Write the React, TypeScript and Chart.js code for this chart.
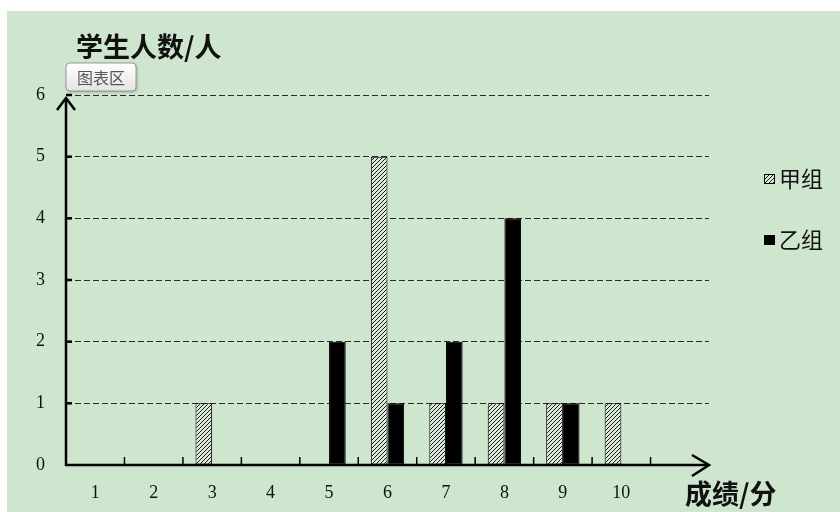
import React, { useEffect, useRef } from 'react';
import { Chart, registerables } from 'chart.js';

Chart.register(...registerables);

// ---- data ----
const categories = ['1', '2', '3', '4', '5', '6', '7', '8', '9', '10', ''];
const groupA = [0, 0, 1, 0, 0, 5, 1, 1, 1, 1];
const groupB = [0, 0, 0, 0, 2, 1, 2, 4, 1, 0];
const seriesNames = ['甲组', '乙组'];
const yMin = 0;
const yMax = 6;
const yTitle = '学生人数/人';
const xTitle = '成绩/分';
const badgeText = '图表区';

const BG = '#cde6cd';
const SERIF = '"Liberation Serif", "DejaVu Serif", serif';
const CJK = '"Noto Sans CJK SC", sans-serif';

function makeHatch(ctx: CanvasRenderingContext2D): CanvasPattern | string {
  const c = document.createElement('canvas');
  c.width = 4;
  c.height = 4;
  const g = c.getContext('2d');
  if (!g) return '#888';
  g.fillStyle = '#dcebd9';
  g.fillRect(0, 0, 4, 4);
  g.strokeStyle = '#1a1a1a';
  g.lineWidth = 1;
  g.beginPath();
  g.moveTo(-1, 5);
  g.lineTo(5, -1);
  g.stroke();
  return ctx.createPattern(c, 'repeat') || '#888';
}

export default function App() {
  const ref = useRef<HTMLCanvasElement | null>(null);

  useEffect(() => {
    const canvas = ref.current;
    if (!canvas) return;
    const ctx0 = canvas.getContext('2d');
    if (!ctx0) return;
    const hatch = makeHatch(ctx0);

    const bgPlugin = {
      id: 'bg',
      beforeDraw(chart: any) {
        const { ctx, width, height } = chart;
        ctx.save();
        ctx.fillStyle = '#ffffff';
        ctx.fillRect(0, 0, width, height);
        ctx.fillStyle = BG;
        ctx.fillRect(7, 11, width - 7, height - 11);
        ctx.restore();
      },
    };

    const axesPlugin = {
      id: 'axesDraw',
      afterDatasetsDraw(chart: any) {
        const { ctx, chartArea: a, scales } = chart;
        const xs = scales.x;
        const ys = scales.y;
        ctx.save();
        ctx.strokeStyle = '#000';
        ctx.lineCap = 'butt';
        // y tick marks
        ctx.lineWidth = 2.5;
        for (let v = yMin + 1; v <= yMax; v++) {
          const py = ys.getPixelForValue(v);
          ctx.beginPath();
          ctx.moveTo(a.left, py);
          ctx.lineTo(a.left + 6, py);
          ctx.stroke();
        }
        // x tick marks at category boundaries
        ctx.lineWidth = 1.5;
        for (let i = 1; i < categories.length; i++) {
          const px = (xs.getPixelForValue(i - 1) + xs.getPixelForValue(i)) / 2;
          ctx.beginPath();
          ctx.moveTo(px, a.bottom);
          ctx.lineTo(px, a.bottom - 8);
          ctx.stroke();
        }
        // axes
        ctx.lineWidth = 2.5;
        ctx.beginPath();
        ctx.moveTo(a.left, a.bottom + 1);
        ctx.lineTo(a.left, a.top + 3);
        ctx.moveTo(a.left - 1, a.bottom);
        ctx.lineTo(a.right, a.bottom);
        ctx.stroke();
        // arrows
        ctx.lineJoin = 'miter';
        ctx.beginPath();
        ctx.moveTo(a.left - 9, a.top + 15);
        ctx.lineTo(a.left, a.top + 3);
        ctx.lineTo(a.left + 9, a.top + 15);
        ctx.moveTo(a.right - 17, a.bottom - 10);
        ctx.lineTo(a.right, a.bottom);
        ctx.lineTo(a.right - 17, a.bottom + 11);
        ctx.stroke();
        ctx.restore();
      },
    };

    const textPlugin = {
      id: 'texts',
      afterDraw(chart: any) {
        const { ctx, chartArea: a } = chart;
        ctx.save();
        ctx.fillStyle = '#111';
        ctx.textBaseline = 'middle';
        ctx.textAlign = 'left';
        ctx.font = `bold 27px ${CJK}`;
        ctx.fillText(yTitle, a.left + 10, 47);
        ctx.fillText(xTitle, a.right - 24, 494);

        // legend
        const lx = 764;
        const items = [
          { name: seriesNames[0], fill: hatch, y: 179 },
          { name: seriesNames[1], fill: '#000', y: 240 },
        ];
        ctx.font = `22px ${CJK}`;
        for (const it of items) {
          ctx.fillStyle = it.fill as any;
          ctx.fillRect(lx, it.y - 5, 11, 10);
          ctx.strokeStyle = '#000';
          ctx.lineWidth = 1;
          ctx.strokeRect(lx + 0.5, it.y - 4.5, 10, 9);
          ctx.fillStyle = '#111';
          ctx.fillText(it.name, lx + 15, it.y);
        }

        // badge
        const bx = 66, by = 63, bw = 70, bh = 28, r = 4;
        ctx.shadowColor = 'rgba(0,0,0,0.3)';
        ctx.shadowBlur = 3;
        ctx.shadowOffsetX = 1;
        ctx.shadowOffsetY = 1;
        const grad = ctx.createLinearGradient(0, by, 0, by + bh);
        grad.addColorStop(0, '#ffffff');
        grad.addColorStop(1, '#e4e4e4');
        ctx.fillStyle = grad;
        ctx.beginPath();
        ctx.moveTo(bx + r, by);
        ctx.lineTo(bx + bw - r, by);
        ctx.quadraticCurveTo(bx + bw, by, bx + bw, by + r);
        ctx.lineTo(bx + bw, by + bh - r);
        ctx.quadraticCurveTo(bx + bw, by + bh, bx + bw - r, by + bh);
        ctx.lineTo(bx + r, by + bh);
        ctx.quadraticCurveTo(bx, by + bh, bx, by + bh - r);
        ctx.lineTo(bx, by + r);
        ctx.quadraticCurveTo(bx, by, bx + r, by);
        ctx.closePath();
        ctx.fill();
        ctx.shadowColor = 'transparent';
        ctx.strokeStyle = '#9a9a9a';
        ctx.lineWidth = 1;
        ctx.stroke();
        ctx.fillStyle = '#555';
        ctx.font = `16px ${CJK}`;
        ctx.textAlign = 'center';
        ctx.fillText(badgeText, bx + bw / 2, by + bh / 2 + 1);
        ctx.restore();
      },
    };

    const zeroBorder = (c: any) => (c.raw === 0 ? 0 : 1);

    const chart = new Chart(canvas, {
      type: 'bar',
      data: {
        labels: categories,
        datasets: [
          {
            label: seriesNames[0],
            data: groupA,
            backgroundColor: hatch as any,
            borderColor: '#000',
            borderWidth: zeroBorder as any,
            borderSkipped: false,
          },
          {
            label: seriesNames[1],
            data: groupB,
            backgroundColor: '#000',
            borderColor: '#000',
            borderWidth: zeroBorder as any,
            borderSkipped: false,
          },
        ],
      },
      options: {
        responsive: false,
        animation: false,
        events: [],
        layout: { padding: { left: 0, top: 95, right: 131, bottom: 0 } },
        plugins: {
          legend: { display: false },
          tooltip: { enabled: false },
          title: { display: false },
        },
        datasets: {
          bar: { categoryPercentage: 0.57, barPercentage: 1 },
        } as any,
        scales: {
          x: {
            type: 'category',
            offset: true,
            grid: { display: false, drawTicks: false },
            border: { display: false },
            ticks: {
              color: '#111',
              font: { family: SERIF, size: 18 },
              padding: 17,
              autoSkip: false,
              maxRotation: 0,
            },
            afterFit(scale: any) {
              scale.height = 47;
            },
          },
          y: {
            min: yMin,
            max: yMax,
            grid: {
              drawTicks: false,
              lineWidth: 1,
              color: (c: any) => (c.tick && c.tick.value === 0 ? 'rgba(0,0,0,0)' : '#2a2a2a'),
            },
            border: { display: false, dash: [6, 3] },
            ticks: {
              stepSize: 1,
              color: '#111',
              font: { family: SERIF, size: 18 },
              padding: 21,
            },
            afterFit(scale: any) {
              scale.width = 66;
            },
          },
        },
      },
      plugins: [bgPlugin, axesPlugin, textPlugin],
    });

    return () => chart.destroy();
  }, []);

  return (
    <div style={{ position: 'absolute', left: 0, top: 0, width: 840, height: 512 }}>
      <canvas ref={ref} width={840} height={512} style={{ display: 'block', width: 840, height: 512 }} />
    </div>
  );
}
